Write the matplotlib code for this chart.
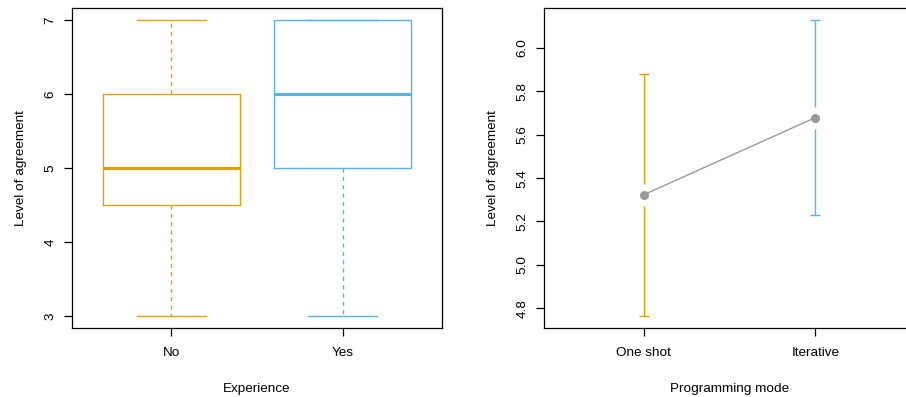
import matplotlib
matplotlib.use("Agg")
import matplotlib.pyplot as plt

plt.rcParams["font.family"] = ["Liberation Sans", "DejaVu Sans"]

# Left panel: boxplot stats by experience
exp_groups = ["No", "Yes"]
exp_whislo = [3, 3]
exp_q1 = [4.5, 5]
exp_med = [5, 6]
exp_q3 = [6, 7]
exp_whishi = [7, 7]

# Right panel: mean with error bars by programming mode
modes = ["One shot", "Iterative"]
mode_mean = [5.323, 5.679]
mode_low = [4.765, 5.230]
mode_high = [5.882, 6.129]

colors = ["#E69F00", "#56B4E9"]
fs = 9.7

fig = plt.figure(figsize=(9.06, 3.97), dpi=100)
W, H = 906, 397
ax1 = fig.add_axes([72 / W, 69 / H, 370 / W, 320 / H])
ax2 = fig.add_axes([544 / W, 69 / H, 371 / W, 320 / H])

# ---- boxplot ----
for i in range(len(exp_groups)):
    st = [{"whislo": exp_whislo[i], "q1": exp_q1[i], "med": exp_med[i],
           "q3": exp_q3[i], "whishi": exp_whishi[i], "fliers": []}]
    c = colors[i]
    ax1.bxp(st, positions=[i + 1], widths=0.8, capwidths=0.4,
            boxprops=dict(color=c, lw=1.0),
            whiskerprops=dict(color=c, lw=1.0, linestyle=(0, (3, 3))),
            capprops=dict(color=c, lw=1.0),
            medianprops=dict(color=c, lw=2.2),
            showfliers=False, manage_ticks=False)

ax1.set_xlim(0.42, 2.58)
ax1.set_ylim(2.84, 7.16)
ax1.set_xticks([1, 2])
ax1.set_xticklabels(exp_groups)
ax1.set_yticks([3, 4, 5, 6, 7])
ax1.set_xlabel("Experience", fontsize=fs, labelpad=17)
ax1.set_ylabel("Level of agreement", fontsize=fs, labelpad=13)

# ---- mean + error bars ----
xs = [1, 2]
for i in range(len(modes)):
    ax2.errorbar(xs[i], mode_mean[i],
                 yerr=[[mode_mean[i] - mode_low[i]], [mode_high[i] - mode_mean[i]]],
                 fmt="none", ecolor=colors[i], elinewidth=1.0, capsize=3.8,
                 capthick=1.0, zorder=1)
ax2.plot(xs, mode_mean, "o", color="white", markersize=15, zorder=2)
ax2.plot(xs, mode_mean, "-o", color="#999999", lw=1.0, markersize=5.5, zorder=3)

ax2.set_xlim(0.42, 2.58)
ax2.set_ylim(4.709, 6.184)
ax2.set_xticks(xs)
ax2.set_xticklabels(modes)
ax2.set_yticks([4.8, 5.0, 5.2, 5.4, 5.6, 5.8, 6.0])
ax2.set_yticklabels(["4.8", "5.0", "5.2", "5.4", "5.6", "5.8", "6.0"])
ax2.set_xlabel("Programming mode", fontsize=fs, labelpad=17)
ax2.set_ylabel("Level of agreement", fontsize=fs, labelpad=13)

for ax in (ax1, ax2):
    for s in ax.spines.values():
        s.set_linewidth(0.9)
    ax.tick_params(length=6, width=0.9, labelsize=fs)
    ax.tick_params(axis="x", pad=8)
    ax.tick_params(axis="y", pad=5)
    for lab in ax.get_yticklabels():
        lab.set_rotation(90)
        lab.set_va("center")

fig.savefig("out.png", dpi=100)
